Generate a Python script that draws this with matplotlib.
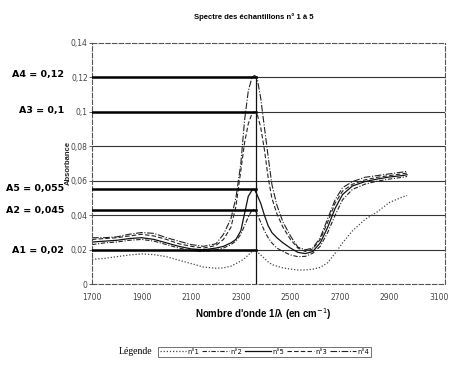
import matplotlib.pyplot as plt

# wave numbers (cm-1) shared by all spectra
wave = [1700, 1750, 1800, 1850, 1900, 1950, 2000, 2050, 2100, 2150, 2200, 2230, 2260, 2280,
        2300, 2315, 2330, 2345, 2355, 2365, 2380, 2395, 2410, 2425, 2445, 2470, 2500, 2530,
        2560, 2590, 2620, 2650, 2680, 2710, 2750, 2800, 2850, 2900, 2950, 2970]

n1 = [0.0145, 0.015, 0.016, 0.017, 0.0176, 0.0172, 0.016, 0.014, 0.012, 0.010, 0.0093, 0.0095,
      0.0105, 0.012, 0.0135, 0.015, 0.017, 0.019, 0.020, 0.019, 0.017, 0.015, 0.013, 0.0115,
      0.0105, 0.0095, 0.0088, 0.0083, 0.0083, 0.0088, 0.0098, 0.0125, 0.018, 0.024, 0.031,
      0.0375, 0.042, 0.0475, 0.0505, 0.0515]
n2 = [0.023, 0.024, 0.0245, 0.0255, 0.026, 0.025, 0.023, 0.021, 0.0195, 0.019, 0.020, 0.021,
      0.023, 0.025, 0.029, 0.034, 0.039, 0.043, 0.0435, 0.041, 0.036, 0.031, 0.027, 0.024,
      0.021, 0.019, 0.017, 0.016, 0.0162, 0.018, 0.022, 0.030, 0.040, 0.049, 0.055, 0.058,
      0.0598, 0.061, 0.062, 0.0625]
n5 = [0.0245, 0.025, 0.0255, 0.0265, 0.027, 0.026, 0.024, 0.022, 0.0205, 0.020, 0.021, 0.022,
      0.024, 0.026, 0.031, 0.041, 0.051, 0.0545, 0.055, 0.052, 0.047, 0.040, 0.034, 0.030,
      0.027, 0.024, 0.021, 0.0185, 0.0178, 0.019, 0.024, 0.033, 0.044, 0.052, 0.057, 0.0595,
      0.061, 0.0622, 0.063, 0.0635]
n3 = [0.026, 0.0265, 0.027, 0.028, 0.029, 0.028, 0.026, 0.0235, 0.022, 0.021, 0.0225, 0.026,
      0.033, 0.045, 0.066, 0.082, 0.093, 0.099, 0.100, 0.099, 0.091, 0.078, 0.062, 0.050,
      0.041, 0.033, 0.026, 0.021, 0.019, 0.0205, 0.026, 0.036, 0.047, 0.054, 0.058, 0.0605,
      0.062, 0.063, 0.064, 0.0645]
n4 = [0.027, 0.027, 0.0275, 0.029, 0.030, 0.0295, 0.027, 0.025, 0.023, 0.022, 0.0235, 0.029,
      0.038, 0.050, 0.070, 0.095, 0.112, 0.120, 0.121, 0.120, 0.108, 0.091, 0.074, 0.058,
      0.046, 0.036, 0.028, 0.0215, 0.020, 0.021, 0.027, 0.038, 0.049, 0.056, 0.0595, 0.062,
      0.063, 0.064, 0.065, 0.0655]

# absorbance read at the peak
peak_wave = 2360
peak_levels = [0.12, 0.1, 0.055, 0.043, 0.02]
peak_labels = ['A4 = 0,12', 'A3 = 0,1', 'A5 = 0,055', 'A2 = 0,045', 'A1 = 0,02']

yticks = [0, 0.02, 0.04, 0.06, 0.08, 0.1, 0.12, 0.14]
ytick_labels = ['0', '0,02', '0,04', '0,06', '0,08', '0,1', '0,12', '0,14']
xticks = [1700, 1900, 2100, 2300, 2500, 2700, 2900, 3100]

W, H = 458, 370
fig = plt.figure(figsize=(4.58, 3.70), dpi=100)
ax = fig.add_axes([92 / W, 1 - 284.3 / H, (445 - 92) / W, (284.3 - 42.7) / H])

# horizontal grid
for lev in yticks[1:-1]:
    ax.axhline(lev, color='#333333', lw=0.8, zorder=1)

# spectra
ax.plot(wave, n1, color='#444444', lw=0.9, linestyle=(0, (1, 1.5)), label='n°1')
ax.plot(wave, n2, color='#222222', lw=0.8, linestyle=(0, (4, 1.5, 1, 1.5)), label='n°2')
ax.plot(wave, n5, color='#111111', lw=0.9, linestyle='-', label='n°5')
ax.plot(wave, n3, color='#222222', lw=0.8, linestyle=(0, (4, 2)), label='n°3')
ax.plot(wave, n4, color='#222222', lw=0.8, linestyle=(0, (6, 1.5, 1, 1.5)), label='n°4')

# peak readings
for lev in peak_levels:
    ax.plot([1700, peak_wave], [lev, lev], color='black', lw=1.8, zorder=3)
ax.plot([peak_wave, peak_wave], [0, 0.12], color='#111111', lw=0.9, zorder=3)

ax.set_xlim(1700, 3123)
ax.set_ylim(0, 0.14)
ax.set_xticks(xticks)
ax.set_xticklabels([str(v) for v in xticks], fontsize=5.5, color='#333333')
ax.set_yticks(yticks)
ax.set_yticklabels(ytick_labels, fontsize=5.5, color='#333333')
ax.tick_params(length=2, width=0.6, colors='#444444', pad=1)
ax.tick_params(axis='x', length=0, pad=6)
for s in ax.spines.values():
    s.set_linestyle((0, (4, 2)))
    s.set_color('#555555')
    s.set_linewidth(0.8)

fig.text(254 / W, 1 - 17 / H, 'Spectre des échantillons n° 1 à 5', ha='center', va='center',
         fontsize=5.5, fontweight='bold', family='Liberation Sans')
fig.text(68 / W, 1 - 163 / H, 'Absorbance', rotation=90, ha='center', va='center',
         fontsize=5.5, fontweight='bold', family='Liberation Sans', color='#222222')
fig.text(263 / W, 1 - 314 / H, "Nombre d'onde 1/λ (en cm$^{-1}$)", ha='center', va='center',
         fontsize=7, fontweight='bold', family='Liberation Sans')

label_y = [75, 110, 189, 210, 250]
for txt, yp in zip(peak_labels, label_y):
    fig.text(64 / W, 1 - yp / H, txt, ha='right', va='center', fontsize=6.8,
             fontweight='bold', family='DejaVu Sans')

fig.text(152 / W, 1 - 352 / H, 'Légende', ha='right', va='center', fontsize=7,
         family='Liberation Serif')
handles, labels = ax.get_legend_handles_labels()
leg = fig.legend(handles, labels, loc='center', bbox_to_anchor=(264.5 / W, 1 - 351.5 / H),
                 ncol=5, fontsize=4.8, frameon=True, fancybox=False, handlelength=4.0,
                 handletextpad=0.2, columnspacing=0.4, borderpad=0.3)
leg.get_frame().set_edgecolor('#333333')
leg.get_frame().set_linewidth(0.6)

fig.savefig('out.png', dpi=100)
